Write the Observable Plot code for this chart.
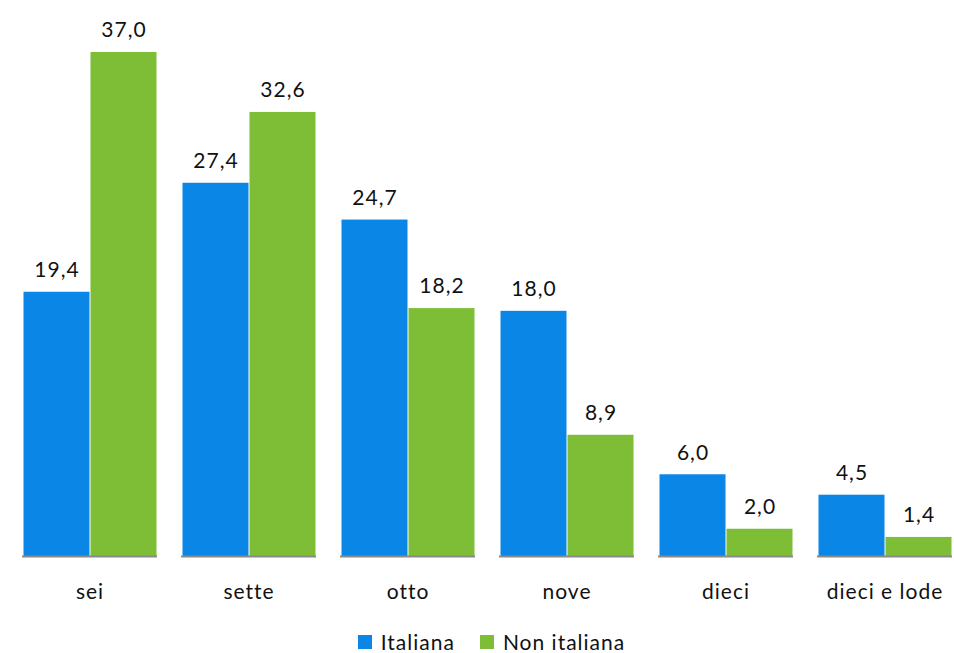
<!DOCTYPE html>
<html><head><meta charset="utf-8">
<script src="https://cdn.jsdelivr.net/npm/d3@7"></script>
<script src="https://cdn.jsdelivr.net/npm/@observablehq/plot@0.6"></script>
<style>
body{margin:0;background:#fff;font-family:Lato,"Open Sans",sans-serif;}
#chart svg{display:block;}
#legend{margin-top:11px;width:954px;box-sizing:border-box;padding-left:29px;display:flex;justify-content:center;gap:25px;font-size:21px;letter-spacing:1px;line-height:22px;height:22px;color:#111;}
#legend span{display:inline-flex;align-items:center;}
#legend i{display:inline-block;width:14px;height:14px;margin-right:9px;}
</style></head><body>
<div id="chart"></div>
<div id="legend"></div>
<script>
const categories = ["sei", "sette", "otto", "nove", "dieci", "dieci e lode"];
const series = ["Italiana", "Non italiana"];
const italiana = [19.4, 27.4, 24.7, 18.0, 6.0, 4.5];
const nonItaliana = [37.0, 32.6, 18.2, 8.9, 2.0, 1.4];
const colors = ["#0A86E6", "#7DBE36"];

const data = [];
categories.forEach((c, i) => {
  data.push({cat: c, serie: series[0], value: italiana[i]});
  data.push({cat: c, serie: series[1], value: nonItaliana[i]});
});
const fmt = v => v.toFixed(1).replace(".", ",");

const chart = Plot.plot({
  width: 954,
  height: 620,
  marginTop: 20,
  marginBottom: 64,
  marginLeft: 9,
  marginRight: 0,
  style: {fontFamily: "Lato, 'Open Sans', sans-serif", fontSize: "21px", color: "#111", letterSpacing: "1px"},
  fx: {domain: categories, range: [22, 952], paddingInner: 0.151, paddingOuter: 0, label: null, tickSize: 0, tickPadding: 28, axis: "bottom"},
  x: {domain: series, padding: 0, axis: null},
  y: {domain: [0, 39.35], axis: null},
  color: {domain: series, range: colors},
  marks: [
    Plot.barY(data, {fx: "cat", x: "serie", y: "value", fill: "serie", insetLeft: 0.5, insetRight: 0.5}),
    Plot.text(data, {fx: "cat", x: "serie", y: "value", text: d => fmt(d.value), dy: -22, fontSize: 21, fill: "#111"}),
    Plot.ruleY([0], {stroke: "#8a8a8a", strokeWidth: 2, facetAnchor: null})
  ]
});
document.getElementById("chart").appendChild(chart);

const lg = document.getElementById("legend");
series.forEach((s, i) => {
  const sp = document.createElement("span");
  sp.innerHTML = `<i style="background:${colors[i]}"></i>${s}`;
  lg.appendChild(sp);
});
</script>
</body></html>
